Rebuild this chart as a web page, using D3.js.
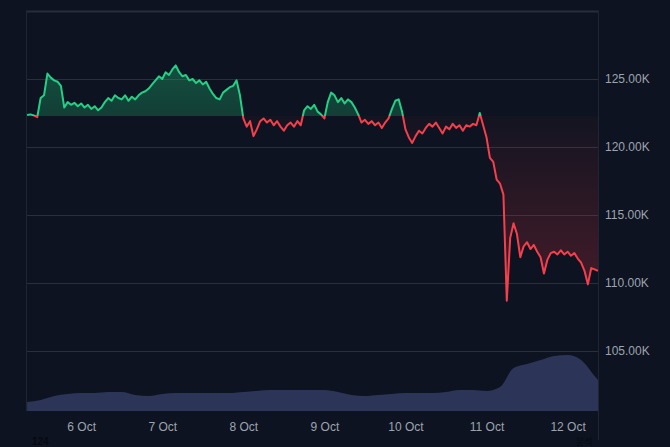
<!DOCTYPE html>
<html>
<head>
<meta charset="utf-8">
<script src="https://cdn.jsdelivr.net/npm/d3@7"></script>
<style>
html,body{margin:0;padding:0;background:#0d1320;}
svg{display:block;}
</style>
</head>
<body>
<svg id="chart" width="670" height="447"></svg>
<script>
// ---- data ----
const priceStart = new Date(2025, 9, 5, 8, 0);      // first hourly price
const baselinePrice = 122.28;                        // K USD
const prices = [ // hourly, K USD
 122.35,122.4,122.32,122.2,123.6,123.8,125.4,125.1,124.9,124.8,
 124.5,122.9,123.3,123.1,123.25,123.0,123.2,122.9,123.1,122.8,
 123.0,122.7,122.9,123.3,123.6,123.4,123.8,123.6,123.5,123.8,
 123.4,123.7,123.5,123.8,124.0,124.1,124.3,124.6,124.9,125.2,
 125.0,125.5,125.3,125.7,126.0,125.5,125.2,125.3,124.9,125.0,
 124.7,124.9,124.6,124.8,124.3,123.9,123.6,123.5,124.0,124.2,
 124.4,124.5,124.9,123.8,122.1,121.5,121.9,120.8,121.3,121.9,
 122.1,121.8,122.0,121.6,121.9,121.5,121.2,121.6,121.8,121.5,
 121.9,121.6,122.7,123.0,122.8,123.1,122.6,122.4,122.1,123.3,
 124.0,123.8,123.3,123.6,123.2,123.5,123.3,122.9,122.4,121.8,
 122.0,121.7,121.9,121.6,121.8,121.4,121.8,122.1,122.8,123.4,
 123.5,122.6,121.3,120.7,120.3,120.8,121.2,121.0,121.4,121.7,
 121.5,121.8,121.4,121.0,121.5,121.3,121.7,121.4,121.6,121.2,
 121.6,121.5,121.7,121.6,122.5,121.6,120.7,119.2,118.9,117.6,
 117.3,116.5,108.7,113.3,114.4,113.6,111.9,112.7,113.0,112.5,
 112.8,112.3,111.9,110.7,111.7,112.2,112.3,112.1,112.4,112.1,
 112.3,112.0,112.2,111.8,111.5,110.9,109.9,111.1,111.0,110.9
];
const volumeStart = new Date(2025, 9, 5, 8, 0);     // every 4 hours
const volumes = [ // relative volume
 9,11,15,17,18,18,19,19,16,15,17,18,18,18,18,18,19,20,21,21,
 21,21,21,19,16,15,16,17,18,18,18,19,21,21,20,24,43,47,51,55,
 56,51,35
];
const volumeEnd = 31;
const priceTicks = [105,110,115,120,125];
const dayTicks = [6,7,8,9,10,11,12].map(d => new Date(2025, 9, d));

// ---- layout ----
const W = 670, H = 447;
const plot = {left: 26, right: 598, top: 11, bottom: 411};
const svg = d3.select("#chart");
svg.append("rect").attr("width", W).attr("height", H).attr("fill", "#0d1320");

const x = d3.scaleTime()
  .domain([new Date(2025, 9, 5, 7, 40), new Date(2025, 9, 12, 9, 0)])
  .range([plot.left, plot.right]);
const y = d3.scaleLinear().domain([100.59, 130]).range([plot.bottom, plot.top]);
const yv = d3.scaleLinear().domain([0, 60]).range([plot.bottom, plot.bottom - 60]);

const pdata = prices.map((v, i) => ({t: d3.timeHour.offset(priceStart, i), v}));
const vdata = volumes.map((v, i) => ({t: d3.timeHour.offset(volumeStart, i * 4), v}));
vdata.push({t: x.domain()[1], v: volumeEnd});

const defs = svg.append("defs");
const yb = y(baselinePrice);
defs.append("clipPath").attr("id", "above").append("rect")
  .attr("x", plot.left).attr("y", plot.top).attr("width", plot.right - plot.left).attr("height", yb - plot.top);
defs.append("clipPath").attr("id", "below").append("rect")
  .attr("x", plot.left).attr("y", yb).attr("width", plot.right - plot.left).attr("height", plot.bottom - yb);

const gG = defs.append("linearGradient").attr("id", "gGreen").attr("gradientUnits", "userSpaceOnUse")
  .attr("x1", 0).attr("x2", 0).attr("y1", y(126.1)).attr("y2", yb);
gG.append("stop").attr("offset", 0).attr("stop-color", "#22c57a").attr("stop-opacity", 0.34);
gG.append("stop").attr("offset", 1).attr("stop-color", "#22c57a").attr("stop-opacity", 0.24);
const gR = defs.append("linearGradient").attr("id", "gRed").attr("gradientUnits", "userSpaceOnUse")
  .attr("x1", 0).attr("x2", 0).attr("y1", yb).attr("y2", y(108));
gR.append("stop").attr("offset", 0).attr("stop-color", "#f23645").attr("stop-opacity", 0.03);
gR.append("stop").attr("offset", 1).attr("stop-color", "#f23645").attr("stop-opacity", 0.26);

// grid lines
svg.append("g").selectAll("line").data(priceTicks).join("line")
  .attr("x1", plot.left).attr("x2", plot.right)
  .attr("y1", d => Math.round(y(d)) + 0.5).attr("y2", d => Math.round(y(d)) + 0.5)
  .attr("stroke", "#2a2f3c").attr("stroke-width", 1);

// volume
svg.append("path").datum(vdata)
  .attr("fill", "#2c3558")
  .attr("d", d3.area().x(d => x(d.t)).y0(plot.bottom).y1(d => yv(d.v)).curve(d3.curveMonotoneX));

// price fills
const area = d3.area().x(d => x(d.t)).y0(yb).y1(d => y(d.v));
svg.append("path").datum(pdata).attr("clip-path", "url(#above)").attr("fill", "url(#gGreen)").attr("d", area);
svg.append("path").datum(pdata).attr("clip-path", "url(#below)").attr("fill", "url(#gRed)").attr("d", area);

// price line
const line = d3.line().x(d => x(d.t)).y(d => y(d.v));
svg.append("path").datum(pdata).attr("clip-path", "url(#above)")
  .attr("fill", "none").attr("stroke", "#26cf86").attr("stroke-width", 2).attr("stroke-linejoin", "round").attr("d", line);
svg.append("path").datum(pdata).attr("clip-path", "url(#below)")
  .attr("fill", "none").attr("stroke", "#f5404c").attr("stroke-width", 2).attr("stroke-linejoin", "round").attr("d", line);

// frame
svg.append("line").attr("x1", plot.left).attr("x2", plot.right + 1).attr("y1", 11.5).attr("y2", 11.5)
  .attr("stroke", "#262d3b").attr("stroke-width", 2);
svg.append("line").attr("x1", plot.left + 0.5).attr("x2", plot.left + 0.5).attr("y1", 11).attr("y2", plot.bottom)
  .attr("stroke", "#1f2533").attr("stroke-width", 1);
svg.append("line").attr("x1", plot.right + 0.5).attr("x2", plot.right + 0.5).attr("y1", 11).attr("y2", 440)
  .attr("stroke", "#1f2533").attr("stroke-width", 1);

// axes
const yAxis = d3.axisRight(y).tickValues(priceTicks).tickSize(0).tickPadding(7)
  .tickFormat(d => d.toFixed(2) + "K");
const gy = svg.append("g").attr("transform", `translate(${plot.right},0)`).call(yAxis);
gy.select(".domain").remove();
gy.selectAll("text").attr("fill", "#9ea4af").style("font-family", "'Liberation Sans', Arial, sans-serif").style("font-size", "12px");

const xAxis = d3.axisBottom(x).tickValues(dayTicks).tickSize(0).tickPadding(11)
  .tickFormat(d3.timeFormat("%-d %b"));
const gx = svg.append("g").attr("transform", `translate(0,${plot.bottom})`).call(xAxis);
gx.select(".domain").remove();
gx.selectAll("text").attr("fill", "#9ea4af").style("font-family", "'Liberation Sans', Arial, sans-serif").style("font-size", "12px");

// faint watermark texts at the bottom edge
svg.append("text").attr("x", 32).attr("y", 445).text("124")
  .attr("fill", "#06090f").style("font-family", "'Liberation Sans', Arial, sans-serif").style("font-size", "10px").style("font-weight", "bold");
svg.append("text").attr("x", 576).attr("y", 445).text("분석")
  .attr("fill", "#070a11").style("font-family", "'Noto Sans CJK KR', sans-serif").style("font-size", "9px");
</script>
</body>
</html>
